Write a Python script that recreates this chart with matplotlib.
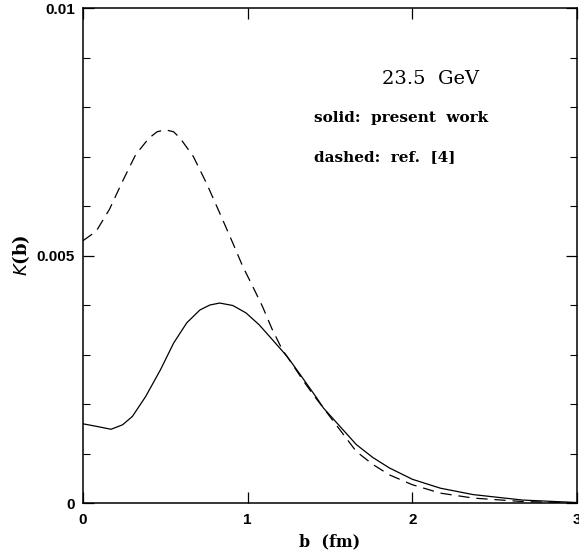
#!/usr/bin/env python3
"""
K(b) vs impact parameter b at 23.5 GeV
solid: present work, dashed: ref. [4]
"""

import matplotlib
matplotlib.use('Agg')
import matplotlib.pyplot as plt
from matplotlib.ticker import MultipleLocator, FixedLocator

# solid curve (present work), K in units of 1e-3
b_solid = [0.0, 0.08, 0.17, 0.24, 0.30, 0.38, 0.47, 0.55, 0.63, 0.71, 0.77,
           0.83, 0.91, 0.99, 1.07, 1.15, 1.24, 1.32, 1.42, 1.46, 1.56, 1.66,
           1.76, 1.86, 2.0, 2.17, 2.37, 2.67, 3.0]
k_solid = [1.60, 1.55, 1.49, 1.58, 1.75, 2.15, 2.69, 3.23, 3.64, 3.90, 4.00,
           4.04, 3.99, 3.84, 3.60, 3.30, 2.96, 2.59, 2.12, 1.92, 1.55, 1.18,
           0.92, 0.71, 0.48, 0.30, 0.17, 0.06, 0.01]

# dashed curve (ref. [4])
b_dashed = [0.0, 0.08, 0.16, 0.24, 0.32, 0.40, 0.45, 0.50, 0.55, 0.59, 0.67,
            0.75, 0.83, 0.91, 0.97, 1.03, 1.09, 1.15, 1.21, 1.28, 1.34, 1.40,
            1.46, 1.56, 1.66, 1.76, 1.86, 2.0, 2.17, 2.37, 2.67, 3.0]
k_dashed = [5.30, 5.49, 5.93, 6.50, 7.04, 7.37, 7.50, 7.54, 7.50, 7.37, 7.00,
            6.46, 5.86, 5.25, 4.78, 4.38, 3.97, 3.50, 3.10, 2.76, 2.46, 2.18,
            1.92, 1.48, 1.04, 0.78, 0.57, 0.37, 0.20, 0.10, 0.03, 0.005]

x_ticks = [0, 1, 2, 3]
y_ticks = [0, 0.005, 0.01]
y_tick_labels = ['0', '0.005', '0.01']

serif = ['DejaVu Serif']
sans = ['Liberation Sans', 'DejaVu Sans']

fig = plt.figure(figsize=(5.79, 5.57), dpi=100)
ax = fig.add_axes([0.1434, 0.0969, 0.8531, 0.8887])

ax.plot(b_solid, [k * 1e-3 for k in k_solid], color='black', linewidth=0.9)
ax.plot(b_dashed, [k * 1e-3 for k in k_dashed], color='black', linewidth=0.9,
        dashes=(9, 5.5))

ax.set_xlim(0, 3)
ax.set_ylim(0, 0.01)

ax.xaxis.set_major_locator(FixedLocator(x_ticks))
ax.yaxis.set_major_locator(FixedLocator(y_ticks))
ax.yaxis.set_minor_locator(MultipleLocator(0.001))
ax.set_xticklabels([str(t) for t in x_ticks], fontfamily=sans,
                   fontweight='bold', fontsize=11)
ax.set_yticklabels(y_tick_labels, fontfamily=sans, fontweight='bold',
                   fontsize=11)

ax.tick_params(axis='both', which='major', direction='in', length=8,
               width=0.9, top=True, right=True)
ax.tick_params(axis='x', which='major', pad=7)
ax.tick_params(axis='y', which='major', pad=6)
ax.tick_params(axis='y', which='minor', direction='in', length=5,
               width=0.8, right=True)
for spine in ax.spines.values():
    spine.set_linewidth(1.1)

ax.set_xlabel('b  (fm)', fontfamily=serif, fontweight='bold', fontsize=11.5,
              labelpad=5)
ax.set_ylabel(r'$K$(b)', fontfamily=serif, fontweight='bold', fontsize=13,
              labelpad=3)

ax.text(2.11, 0.00857, '23.5  GeV', fontfamily=serif, fontsize=14,
        ha='center', va='center')
ax.text(1.40, 0.00778, 'solid:  present  work', fontfamily=serif,
        fontweight='bold', fontsize=11, ha='left', va='center')
ax.text(1.40, 0.00699, 'dashed:  ref.  [4]', fontfamily=serif,
        fontweight='bold', fontsize=11, ha='left', va='center')

plt.savefig('out.png', dpi=100)
plt.close()
